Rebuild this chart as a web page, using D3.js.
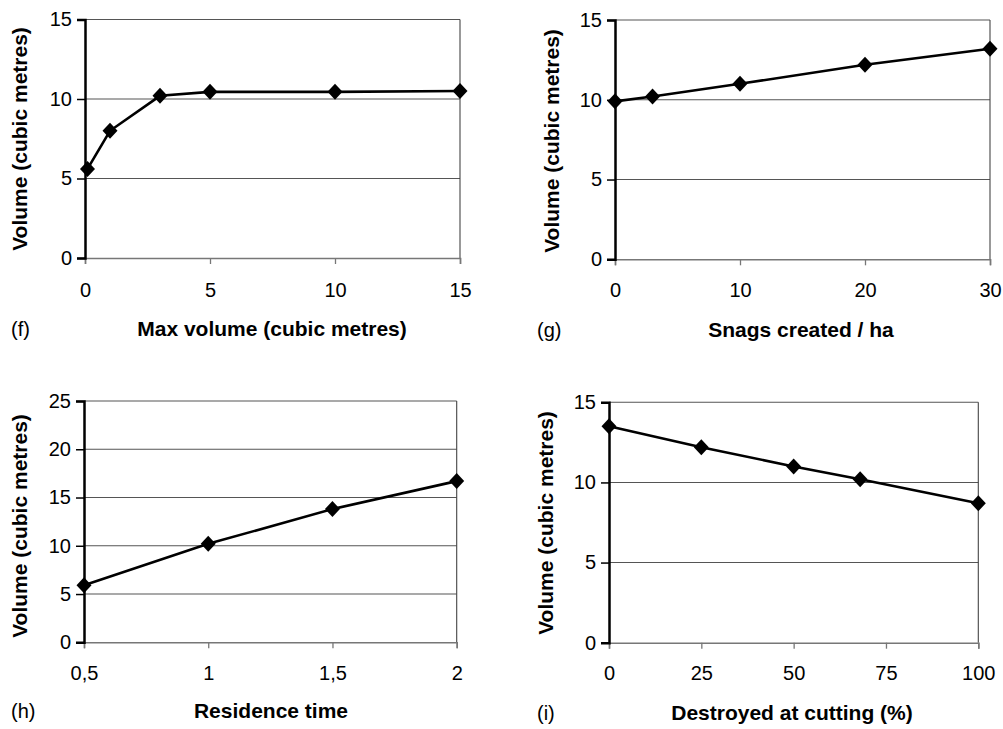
<!DOCTYPE html>
<html>
<head>
<meta charset="utf-8">
<script src="https://cdn.jsdelivr.net/npm/d3@7"></script>
<style>
  html, body { margin: 0; padding: 0; background: #fff; }
  svg { display: block; font-family: "Liberation Sans", Arial, sans-serif; }
</style>
</head>
<body>
<svg id="chart" width="1003" height="729"></svg>
<script>
// ---- data ----
const fX = [0.1, 1, 3, 5, 10, 15];
const fY = [5.6, 8.0, 10.2, 10.45, 10.45, 10.5];
const fXTicks = [0, 5, 10, 15];
const fYTicks = [0, 5, 10, 15];

const gX = [0, 3, 10, 20, 30];
const gY = [9.9, 10.2, 11.0, 12.2, 13.2];
const gXTicks = [0, 10, 20, 30];
const gYTicks = [0, 5, 10, 15];

const hX = [0.5, 1, 1.5, 2];
const hY = [5.9, 10.2, 13.8, 16.7];
const hXTicks = [0.5, 1, 1.5, 2];
const hYTicks = [0, 5, 10, 15, 20, 25];

const iX = [0, 25, 50, 68, 100];
const iY = [13.5, 12.2, 11.0, 10.2, 8.7];
const iXTicks = [0, 25, 50, 75, 100];
const iYTicks = [0, 5, 10, 15];

const panelLabels = ["(f)", "(g)", "(h)", "(i)"];
const xTitles = ["Max volume (cubic metres)", "Snags created / ha", "Residence time", "Destroyed at cutting (%)"];
const yTitle = "Volume (cubic metres)";

// ---- layout ----
const panels = [
  { xs: fX, ys: fY, xt: fXTicks, yt: fYTicks, xd: [0, 15], yd: [0, 15],
    xr: [85, 460], yr: [258, 19.5], yTitleX: 27, yTitleY: 139, xTitleX: 272, xTitleY: 336, labX: 11, xTickY: 297 },
  { xs: gX, ys: gY, xt: gXTicks, yt: gYTicks, xd: [0, 30], yd: [0, 15],
    xr: [615, 990], yr: [259.3, 20], yTitleX: 559, yTitleY: 141, xTitleX: 801, xTitleY: 337, labX: 537, xTickY: 297 },
  { xs: hX, ys: hY, xt: hXTicks, yt: hYTicks, xd: [0.5, 2], yd: [0, 25],
    xr: [84, 456.7], yr: [642.3, 401], yTitleX: 27, yTitleY: 526, xTitleX: 271, xTitleY: 718, labX: 11, xTickY: 680 },
  { xs: iX, ys: iY, xt: iXTicks, yt: iYTicks, xd: [0, 100], yd: [0, 15],
    xr: [609, 978.3], yr: [642.7, 402.3], yTitleX: 553, yTitleY: 523, xTitleX: 792, xTitleY: 720, labX: 537, xTickY: 680 }
];

const svg = d3.select("#chart");
const fmt = d => String(d).replace(".", ",");

panels.forEach((p, k) => {
  const x = d3.scaleLinear().domain(p.xd).range(p.xr);
  const y = d3.scaleLinear().domain(p.yd).range(p.yr);
  const g = svg.append("g");

  // gridlines (non-zero y ticks)
  g.selectAll("line.grid").data(p.yt.filter(v => v !== 0)).enter().append("line")
    .attr("x1", p.xr[0]).attr("x2", p.xr[1])
    .attr("y1", d => y(d)).attr("y2", d => y(d))
    .attr("stroke", "#555").attr("stroke-width", 1.1);

  // right border
  g.append("line").attr("x1", p.xr[1]).attr("x2", p.xr[1])
    .attr("y1", p.yr[1]).attr("y2", p.yr[0])
    .attr("stroke", "#444").attr("stroke-width", 1.1);

  // x axis
  const xa = d3.axisBottom(x).tickValues(p.xt).tickSize(6).tickFormat(fmt);
  const xg = g.append("g").attr("transform", `translate(0,${p.yr[0]})`).call(xa);
  xg.select(".domain").attr("stroke", "#777").attr("stroke-width", 1.6);
  xg.selectAll(".tick line").attr("stroke", "#777").attr("stroke-width", 1.3);
  xg.selectAll(".tick text").attr("fill", "#000").attr("font-size", 20)
    .attr("y", null).attr("dy", null)
    .attr("transform", null)
    .each(function () { d3.select(this).attr("y", p.xTickY - p.yr[0]); });
  xg.attr("font-family", null);

  // y axis
  const ya = d3.axisLeft(y).tickValues(p.yt).tickSize(8).tickPadding(5).tickFormat(fmt);
  const yg = g.append("g").attr("transform", `translate(${p.xr[0]},0)`).call(ya);
  yg.select(".domain").attr("stroke", "#000").attr("stroke-width", 2.5);
  yg.selectAll(".tick line").attr("stroke", "#000").attr("stroke-width", 1.5);
  yg.selectAll(".tick text").attr("fill", "#000").attr("font-size", 20);
  yg.attr("font-family", null);

  // line
  const pts = p.xs.map((v, i) => [v, p.ys[i]]);
  g.append("path").datum(pts)
    .attr("d", d3.line().x(d => x(d[0])).y(d => y(d[1])))
    .attr("fill", "none").attr("stroke", "#000").attr("stroke-width", 2.6);

  // diamond markers
  g.selectAll("path.mk").data(pts).enter().append("path")
    .attr("transform", d => `translate(${x(d[0])},${y(d[1])})`)
    .attr("d", "M0,-8L7.5,0L0,8L-7.5,0Z")
    .attr("fill", "#000");

  // y title
  g.append("text")
    .attr("transform", `translate(${p.yTitleX},${p.yTitleY}) rotate(-90)`)
    .attr("text-anchor", "middle")
    .attr("font-weight", "bold").attr("font-size", 21)
    .text(yTitle);

  // x title
  g.append("text").attr("x", p.xTitleX).attr("y", p.xTitleY)
    .attr("text-anchor", "middle")
    .attr("font-weight", "bold").attr("font-size", 21)
    .text(xTitles[k]);

  // panel label
  g.append("text").attr("x", p.labX).attr("y", p.xTitleY)
    .attr("font-size", 20)
    .text(panelLabels[k]);
});
</script>
</body>
</html>
